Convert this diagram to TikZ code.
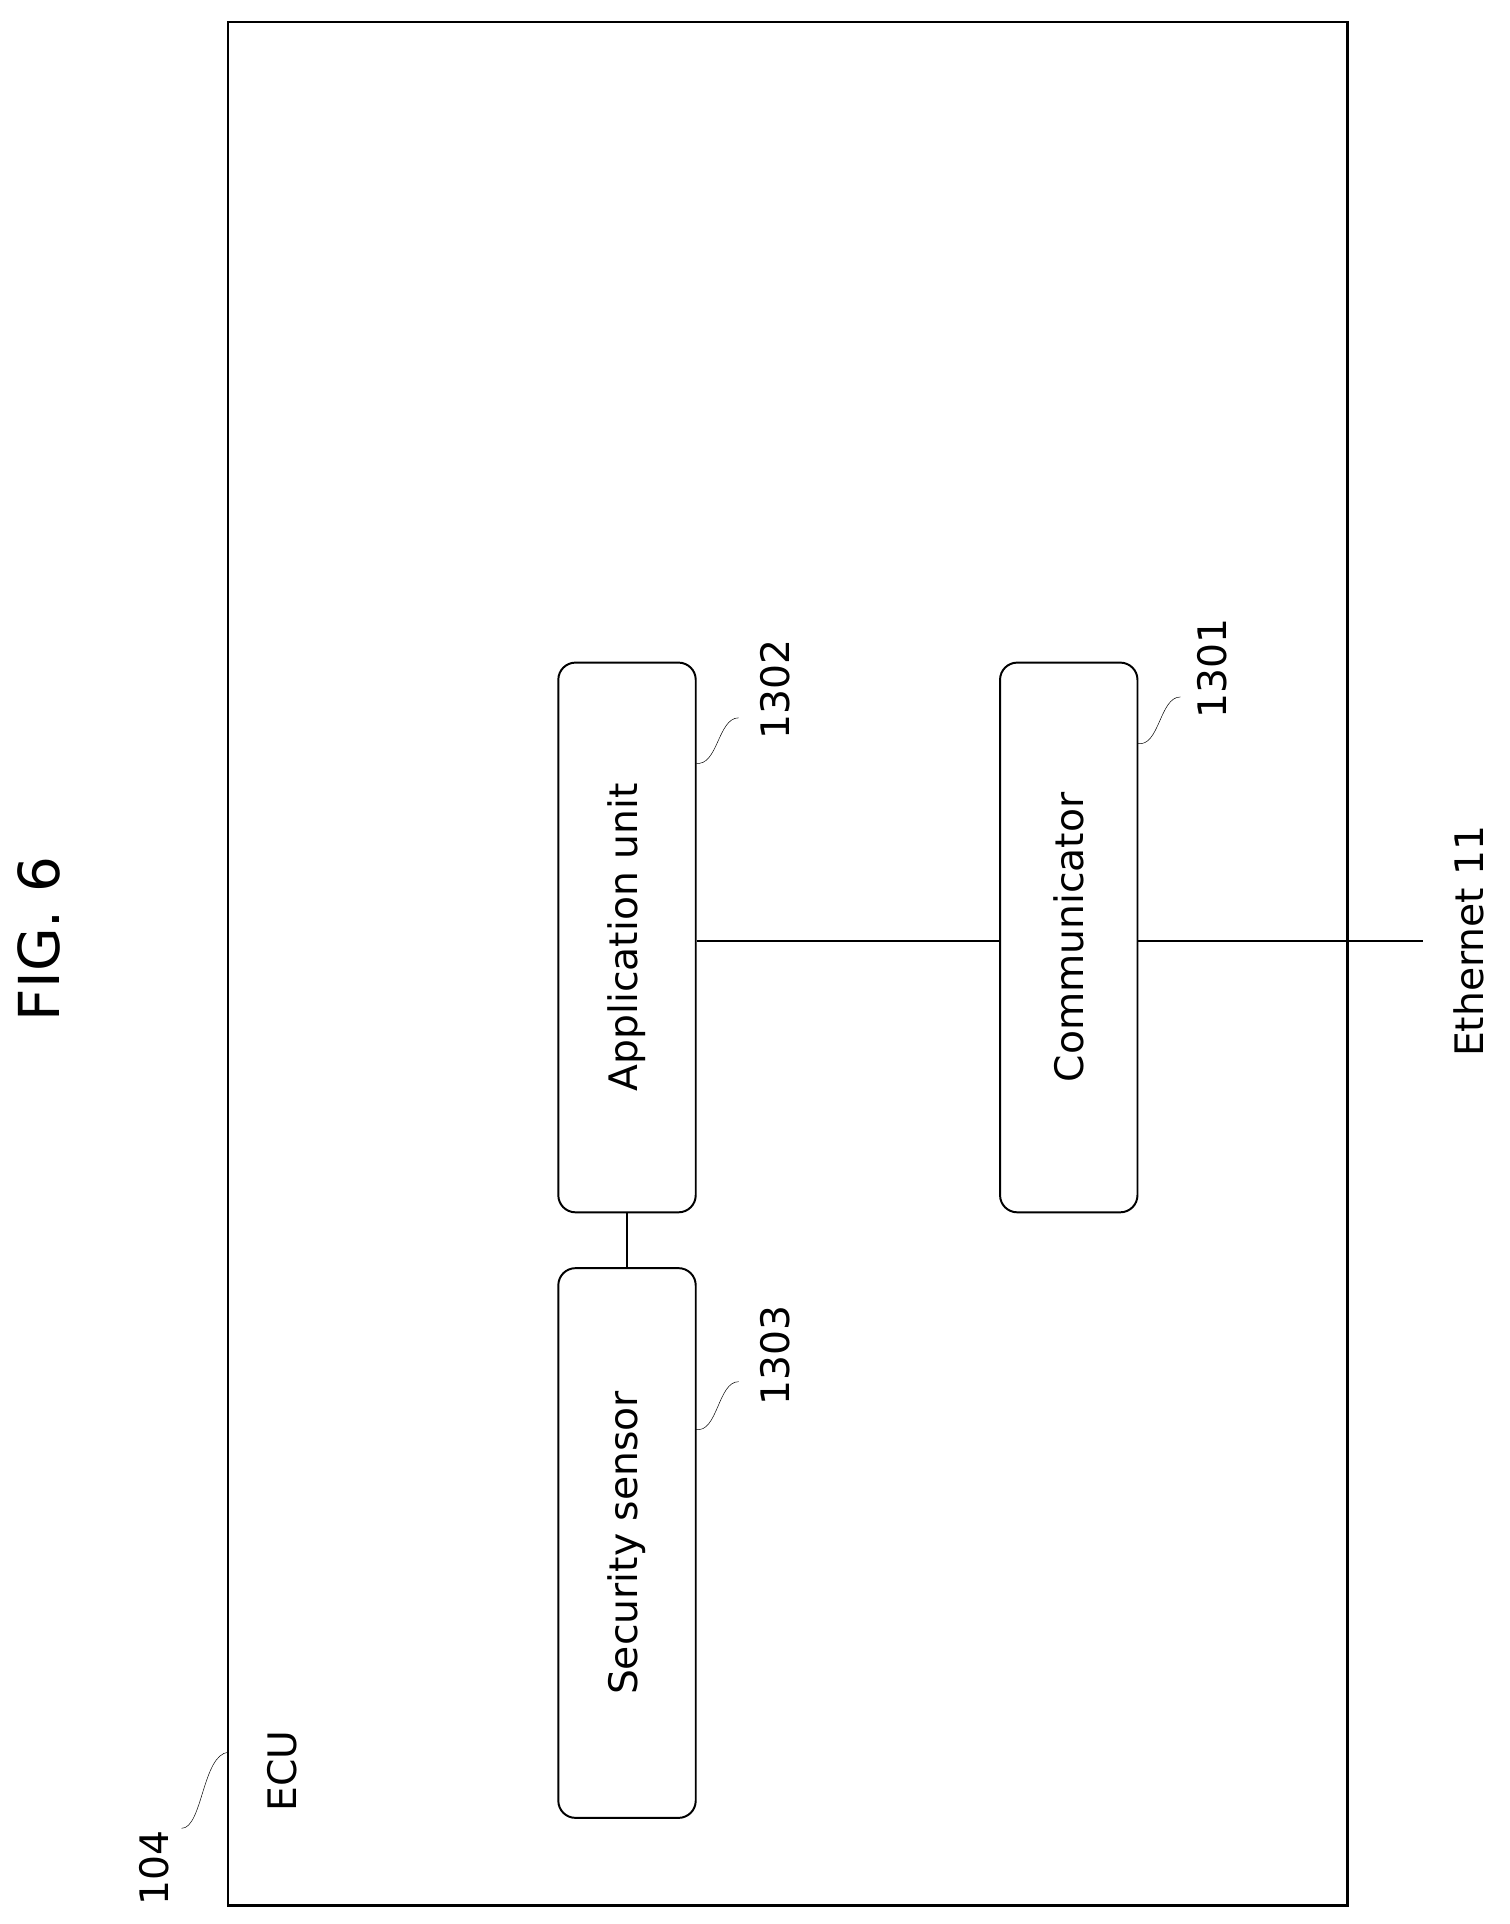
\documentclass[tikz,border=0pt]{standalone}
\usepackage{fontspec}
\setmainfont{DejaVu Sans}
\begin{document}
\begin{tikzpicture}[x=1pt,y=-1pt,
  unit/.style={draw,line width=1.6pt,rounded corners=14pt,minimum width=112pt,minimum height=448pt,inner sep=0pt},
  lbl/.style={rotate=90,font=\fontsize{32}{36}\selectfont}]
\useasboundingbox (0,0) rectangle (1230,1568);
\node[draw,line width=2pt,minimum width=912pt,minimum height=1535pt,inner sep=0pt] (ecu) at (642,785.5) {};
\node[rotate=90,font=\fontsize{46}{52}\selectfont] (fig) at (32,765) {FIG. 6};
\node[unit] (app) at (511,764) {};
\node[lbl] at (app) {Application unit};
\node[unit] (sec) at (511,1257.5) {};
\node[lbl] at (sec) {Security sensor};
\node[unit] (com) at (871,764) {};
\node[lbl] at (com) {Communicator};
\coordinate (eth) at (1160,767);
\node[lbl] (ethl) at (1197,767) {Ethernet 11};
\draw[line width=1.4pt] (app.south) -- (sec.north);
\draw[line width=1.2pt] (app.east |- 0,767) -- (com.west |- 0,767);
\draw[line width=1.2pt] (com.east |- 0,767) -- (eth);
\node[lbl] (n1302) at (632,562) {1302};
\node[lbl] (n1301) at (988,545) {1301};
\node[lbl] (n1303) at (632,1105) {1303};
\node[lbl] (n104) at (126,1522) {104};
\node[lbl,anchor=west] (ecut) at (230,1480) {ECU};
\coordinate (a1) at (567,622); \coordinate (b1) at (602,585);
\coordinate (a2) at (927,606); \coordinate (b2) at (962,568);
\coordinate (a3) at (567,1165); \coordinate (b3) at (602,1126);
\coordinate (a4) at (186,1428); \coordinate (b4) at (148,1490);
\draw (a1) .. controls (585,625) and (585,585) .. (b1);
\draw (a2) .. controls (945,609) and (945,568) .. (b2);
\draw (a3) .. controls (585,1168) and (585,1126) .. (b3);
\draw (a4) .. controls (165,1430) and (165,1490) .. (b4);
\end{tikzpicture}
\end{document}
